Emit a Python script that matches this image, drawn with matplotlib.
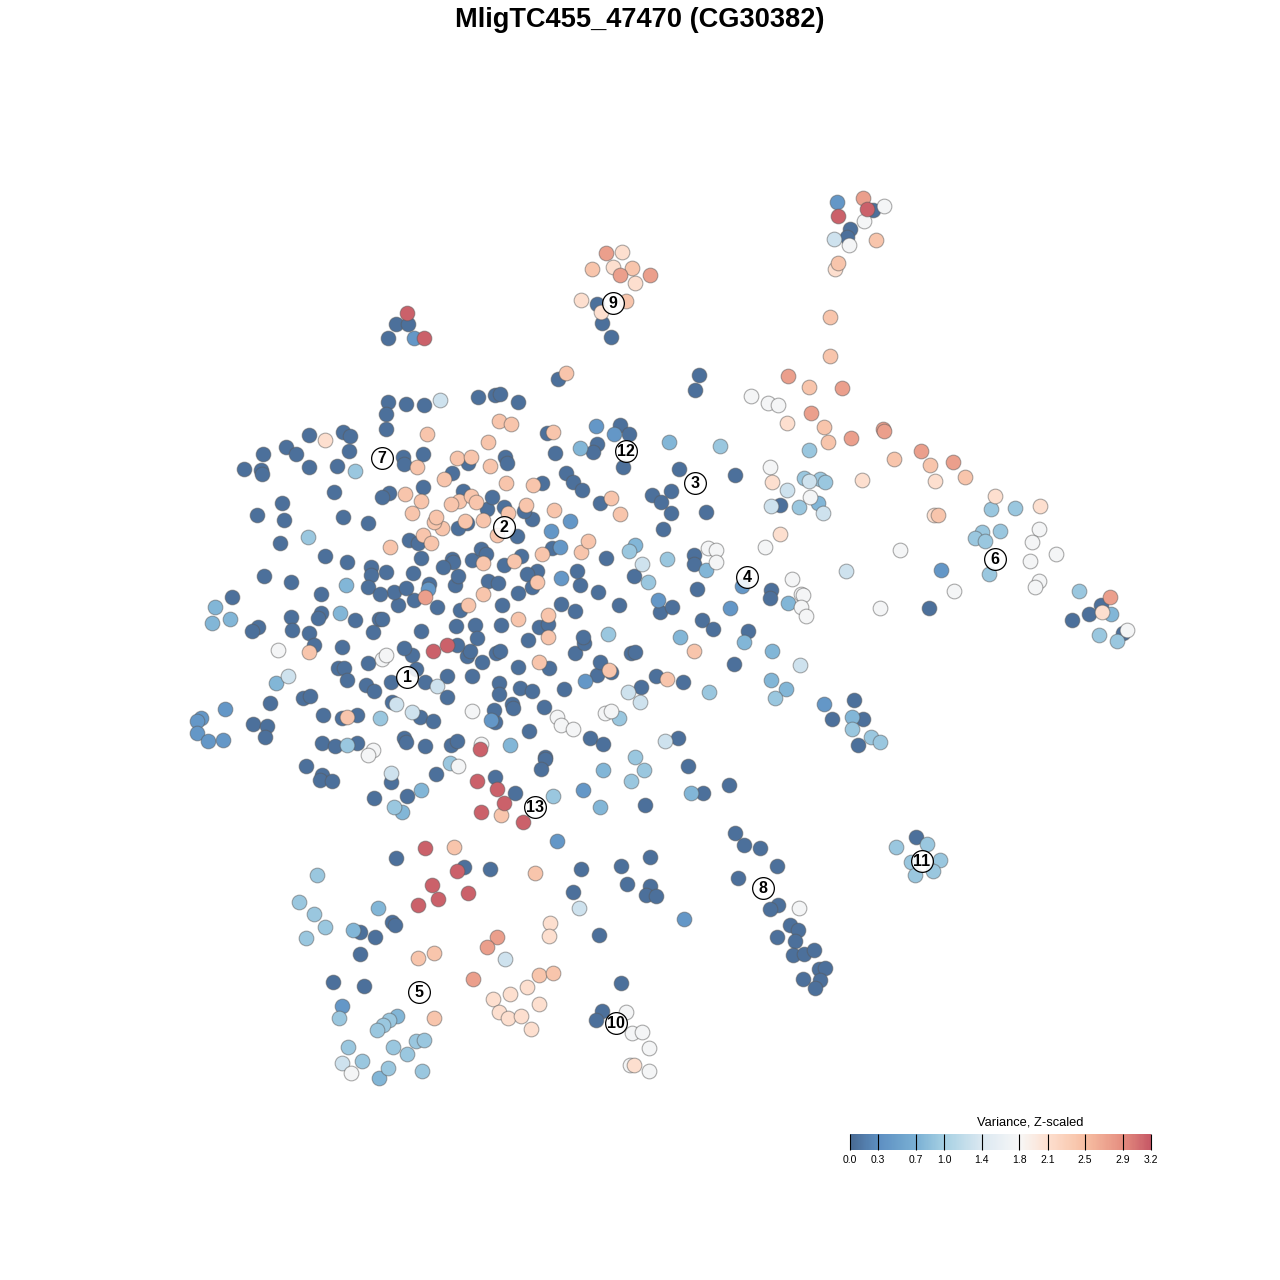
import numpy as np
import matplotlib
matplotlib.use('Agg')
import matplotlib.pyplot as plt
from matplotlib.colors import LinearSegmentedColormap, Normalize
from matplotlib.cm import ScalarMappable

plt.rcParams['font.family'] = ['Liberation Sans', 'DejaVu Sans']

# tSNE embedding positions, grouped by variance level
var_00 = [(873,210),(850,229),(847,237),(597,304),(602,323),(611,337),(396,324),(408,324),(388,338),
    (558,379),(699,375),(695,390),(694,555),(694,564),(929,608),(1101,605),(1089,614),(1072,620),(1123,633),
    (679,469),(735,475),(652,495),(661,502),(671,491),(671,513),(706,512),(663,529),(606,558),(634,576),
    (697,589),(771,590),(770,598),(780,505),(702,620),(713,629),(748,631),(734,664),(854,700),(832,719),
    (863,719),(858,745),(660,612),(672,607),(683,682),(656,676),(641,687),(678,738),(688,766),(729,785),
    (703,793),(645,805),(515,793),(735,833),(744,845),(760,848),(777,866),(738,878),(778,905),(770,909),
    (790,925),(798,930),(777,937),(795,941),(793,955),(804,954),(814,950),(819,969),(825,968),(820,980),
    (803,979),(815,988),(916,837),(650,857),(621,866),(581,869),(627,884),(650,886),(646,895),(656,896),
    (573,892),(599,935),(621,983),(602,1011),(596,1020),(396,858),(464,867),(490,869),(360,932),(375,937),
    (392,922),(395,925),(360,954),(333,982),(364,986),(495,777),
    (388,402),(386,414),(386,429),(406,404),(424,405),(495,395),(500,394),(478,397),(518,402),(309,435),
    (343,432),(350,436),(349,451),(263,454),(286,447),(296,454),(244,469),(261,470),(262,474),(309,467),
    (337,466),(334,492),(282,503),(257,515),(284,520),(343,517),(368,523),(280,543),(325,556),(347,562),
    (264,576),(291,582),(232,597),(291,617),(321,613),(318,618),(321,594),(355,620),(379,619),(373,632),
    (292,630),(309,633),(258,627),(252,631),(314,645),(342,647),(338,668),(344,668),(368,663),(347,680),
    (366,685),(303,698),(310,696),(270,703),(253,724),(267,726),(265,737),(323,715),(342,718),(357,715),
    (392,702),(404,738),(406,742),(322,743),(335,746),(357,743),(306,766),(322,775),(320,780),(332,781),
    (391,782),(374,798),(407,796),(436,774),(425,746),(451,745),(457,741),(529,731),(545,757),(545,759),
    (541,769),(590,738),(603,744),(544,707),(512,704),(513,708),(495,722),(494,710),(420,717),(433,721),
    (391,682),(374,691),(416,669),(425,682),(447,697),(447,676),(472,676),(499,683),(499,694),(520,688),
    (532,691),(564,689),(597,675),(600,662),(611,672),(575,653),(584,643),(631,653),(635,652),(518,667),
    (549,668),(496,653),(500,651),(482,662),(467,656),(470,651),(412,655),(404,648),(421,631),(437,607),
    (456,626),(475,625),(477,638),(457,645),(501,625),(539,627),(548,624),(528,640),(561,604),(575,611),
    (583,637),(598,592),(619,605),(580,585),(577,571),(537,571),(527,574),(532,587),(518,593),(502,605),
    (460,610),(414,600),(398,605),(394,592),(406,588),(429,584),(455,585),(458,576),(488,581),(498,583),
    (504,565),(472,560),(452,559),(453,562),(443,567),(421,558),(409,540),(418,543),(371,567),(371,575),
    (386,572),(368,587),(380,594),(413,573),(481,549),(486,554),(521,556),(552,548),(532,519),(524,511),
    (504,507),(487,509),(492,497),(463,491),(467,523),(458,528),(517,536),(423,487),(389,493),(382,497),
    (452,473),(505,457),(507,463),(468,463),(542,483),(555,453),(547,433),(620,425),(629,434),(597,444),
    (593,452),(623,467),(566,473),(573,482),(582,490),(600,503),(403,457),(404,464),(423,454),(382,619)]
var_03 = [(837,202),(414,338),(941,570),(742,586),(730,608),(658,600),(824,704),(583,790),(557,841),
    (684,919),(342,1006),(225,709),(201,718),(197,721),(197,733),(208,741),(223,740),(491,720),(596,426),
    (614,434),(570,521),(551,531),(560,547),(561,578),(428,589),(585,681)]
var_07 = [(818,503),(788,603),(772,651),(771,680),(786,689),(852,717),(635,545),(680,637),(706,570),
    (603,770),(691,793),(600,807),(378,908),(353,930),(397,1016),(379,1078),(215,607),(212,623),(230,619),
    (340,613),(346,585),(276,683),(421,790),(402,812),(510,745),(580,448),(1111,614),(669,442),(744,642)]
var_10 = [(982,532),(1000,531),(975,538),(985,541),(989,574),(1079,591),(1099,635),(1117,641),(804,478),
    (820,479),(825,482),(799,507),(720,446),(629,551),(667,559),(648,582),(775,698),(852,729),(871,737),
    (880,742),(709,692),(619,718),(644,770),(635,757),(631,781),(553,796),(927,844),(896,847),(911,862),
    (940,860),(933,871),(915,875),(317,875),(299,902),(314,914),(325,927),(306,938),(339,1018),(389,1020),
    (383,1025),(377,1030),(416,1041),(424,1040),(393,1047),(407,1054),(348,1047),(362,1061),(388,1068),
    (422,1071),(355,471),(308,537),(380,718),(347,745),(450,763),(394,807),(608,634),(809,450),(991,509),(1015,508)]
var_13 = [(834,239),(440,400),(823,513),(809,481),(787,490),(771,506),(846,571),(800,665),
    (665,741),(579,908),(505,959),(342,1063),(391,773),(288,676),(437,686),(412,712),(396,704),(642,564),(628,692),(640,702)]
var_17 = [(884,206),(864,221),(849,245),(751,396),(768,403),(778,405),(770,467),(765,547),(708,548),
    (716,550),(716,562),(900,550),(1039,529),(1032,542),(1039,581),(1035,587),(954,591),(880,608),(1127,630),
    (792,579),(801,594),(803,595),(801,607),(806,616),(605,713),(611,711),(799,908),(626,1012),(632,1033),
    (642,1032),(649,1048),(630,1065),(649,1071),(351,1073),(278,650),(382,659),(386,655),(373,750),(368,755),
    (458,766),(481,744),(472,711),(557,717),(561,725),(573,729),(810,497),(1056,554),(1030,561)]
var_21 = [(835,269),(622,252),(613,267),(635,283),(581,300),(601,312),(787,423),(862,480),(772,482),
    (780,534),(935,481),(995,496),(1040,506),(934,515),(1102,612),(325,440),(634,1065),(550,923),(549,936),
    (527,987),(510,994),(493,999),(539,1004),(499,1012),(508,1018),(521,1016),(531,1029)]
var_24 = [(876,240),(838,263),(592,269),(632,268),(626,301),(566,373),(830,317),(830,356),(809,387),
    (824,427),(828,442),(894,459),(930,465),(965,477),(938,515),(694,651),(667,679),(609,670),(535,873),
    (454,847),(501,815),(434,953),(418,958),(539,975),(553,973),(434,1018),(309,652),(347,717),(539,662),
    (499,421),(511,424),(488,442),(427,434),(553,432),(417,467),(457,458),(471,457),(490,466),(444,479),
    (506,483),(533,485),(405,494),(421,501),(412,513),(459,501),(451,504),(471,496),(476,502),(554,510),
    (611,498),(620,514),(508,513),(483,520),(526,505),(497,535),(465,521),(442,528),(434,522),(436,517),
    (390,547),(423,535),(431,543),(483,563),(514,561),(542,554),(581,552),(588,541),(537,582),(548,615),
    (548,637),(518,619),(483,594),(468,605)]
var_28 = [(863,198),(606,253),(620,275),(650,275),(788,376),(842,388),(811,413),(851,438),(883,429),
    (884,431),(921,451),(953,462),(1110,597),(497,937),(487,947),(473,979),(425,597)]
var_31 = [(867,209),(838,216),(407,313),(424,338),(433,651),(447,645),(480,749),(477,781),(497,789),
    (504,803),(481,812),(523,822),(425,848),(457,871),(432,885),(468,893),(438,899),(418,905)]

levels = [0.05, 0.4, 0.75, 0.92, 1.3, 1.75, 2.1, 2.42, 2.75, 3.15]
groups = [var_00, var_03, var_07, var_10, var_13, var_17, var_21, var_24, var_28, var_31]

# cluster numbers and where they sit
cluster_ids = [1, 2, 3, 4, 5, 6, 7, 8, 9, 10, 11, 12, 13]
cluster_x = [407, 504, 695, 747, 419, 995, 382, 763, 613, 616, 922, 626, 535]
cluster_y = [677, 527, 483, 577, 992, 559, 458, 888, 303, 1023, 861, 451, 807]

bar_ticks = [0.0, 0.3, 0.7, 1.0, 1.4, 1.8, 2.1, 2.5, 2.9, 3.2]
bar_colors = ["#486a93", "#5d8fc2", "#7ab0d4", "#a6d0e3", "#dbe8f1", "#f7f7f7",
              "#fde0d0", "#f7bfa3", "#e58e80", "#c65866"]

norm = Normalize(0, 3.2)
cmap = LinearSegmentedColormap.from_list("var_z", [(t / 3.2, c) for t, c in zip(bar_ticks, bar_colors)])

fig = plt.figure(figsize=(12.8, 12.8), dpi=100)
ax = fig.add_axes([0, 0, 1, 1])
ax.set_xlim(0, 1280)
ax.set_ylim(1280, 0)
ax.axis('off')

for val, pts in zip(levels, groups):
    xy = np.array(pts)
    ax.scatter(xy[:, 0], xy[:, 1], s=112, c=[cmap(norm(val))], edgecolors=[(0.35, 0.35, 0.35, 0.5)],
               linewidths=0.8, zorder=2)

ax.scatter(cluster_x, cluster_y, s=245, c=[(1, 1, 1, 0.88)], edgecolors='black', linewidths=0.9, zorder=3)
for i, cx, cy in zip(cluster_ids, cluster_x, cluster_y):
    ax.text(cx, cy + 0.5, str(i), ha='center', va='center', fontsize=11.5, fontweight='bold', zorder=4)

ax.text(640, 20, "MligTC455_47470 (CG30382)", ha='center', va='center', fontsize=19.6, fontweight='bold')

# colour key
cax = fig.add_axes([850 / 1280, 1 - 1150 / 1280, 301 / 1280, 16 / 1280])
cb = fig.colorbar(ScalarMappable(norm=norm, cmap=cmap), cax=cax, orientation='horizontal', ticks=bar_ticks, format='%.1f')
cb.outline.set_visible(False)
cax.tick_params(axis='x', direction='in', length=11.5, width=0.8, color='black', labelsize=7.5, pad=3.5)
cax.text(0.6, 1.7, "Variance, Z-scaled", transform=cax.transAxes, ha='center', va='center', fontsize=9.3)

plt.savefig('out.png', dpi=100)
